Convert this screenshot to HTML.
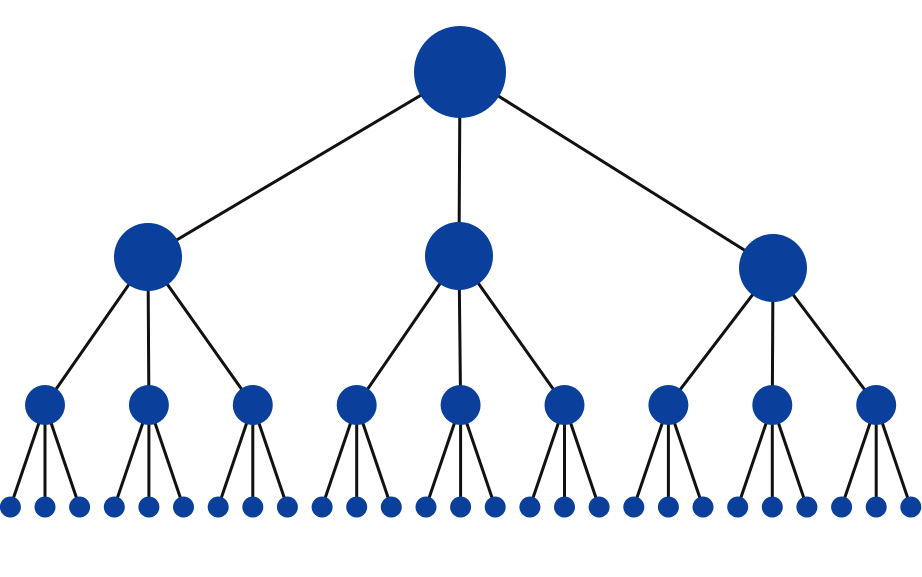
<!DOCTYPE html>
<html><head><style>html,body{margin:0;padding:0;background:#fff}svg{display:block}</style></head>
<body>
<svg width="922" height="577" viewBox="0 0 922 577" xmlns="http://www.w3.org/2000/svg">
<g stroke="#111" stroke-width="3" id="lines"></g>
<g fill="#0a3f9b" id="nodes"></g>
<script>
var L=document.getElementById('lines'),N=document.getElementById('nodes'),ns='http://www.w3.org/2000/svg';
function ln(a,b,c,d){var e=document.createElementNS(ns,'line');e.setAttribute('x1',a);e.setAttribute('y1',b);e.setAttribute('x2',c);e.setAttribute('y2',d);L.appendChild(e);}
function ci(x,y,r){var e=document.createElementNS(ns,'circle');e.setAttribute('cx',x);e.setAttribute('cy',y);e.setAttribute('r',r);N.appendChild(e);}
var root=[460,72],l2=[[148,257],[459,256],[773,268]];
ci(460,72,46);
l2.forEach(function(p,i){ln(460,72,p[0],p[1]);ci(p[0],p[1],34);
 for(var j=0;j<3;j++){var k=i*3+j;var x=45+k*103.9,y=405;ln(p[0],p[1],x,y);ci(x,y,20);
  for(var m=0;m<3;m++){var lx=x+(m-1)*34.6;ln(x,y,lx,507);ci(lx,507,10.5);}}
});
</script>
</svg>
</body></html>
